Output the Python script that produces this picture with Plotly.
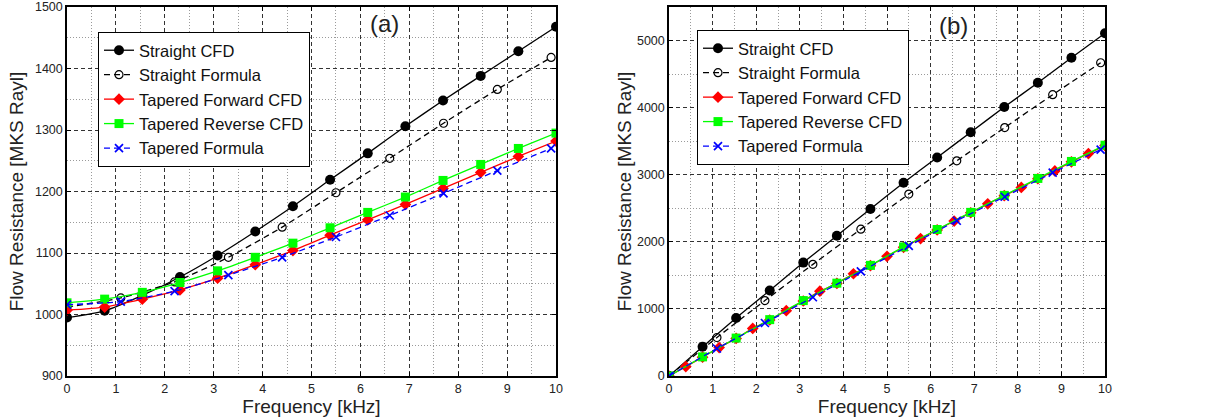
import plotly.graph_objects as go

# ---------------- data: panel (a) ----------------
a_x_cfd = [0, 0.77, 1.54, 2.31, 3.08, 3.85, 4.62, 5.38, 6.15, 6.92, 7.69, 8.46, 9.23, 10]
a_x_formula = [0, 1.1, 2.2, 3.3, 4.4, 5.5, 6.6, 7.7, 8.8, 9.9]
a_straight_cfd = [995, 1006, 1031, 1061, 1096, 1135, 1176, 1219, 1262, 1306, 1348, 1388, 1428, 1468]
a_straight_formula = [1012, 1027, 1053, 1093, 1142, 1198, 1254, 1311, 1366, 1418]
a_tapered_fwd = [1007, 1012, 1025, 1040, 1059, 1081, 1104, 1129, 1154, 1179, 1205, 1231, 1257, 1282]
a_tapered_rev = [1019, 1025, 1036, 1052, 1071, 1093, 1116, 1141, 1166, 1191, 1218, 1244, 1270, 1295]
a_tapered_formula = [1016, 1021, 1038, 1064, 1093, 1126, 1161, 1197, 1234, 1270]

# ---------------- data: panel (b) ----------------
b_x_cfd = [0, 0.77, 1.54, 2.31, 3.08, 3.85, 4.62, 5.38, 6.15, 6.92, 7.69, 8.46, 9.23, 10]
b_x_fwd = [0, 0.385, 0.77, 1.15, 1.54, 1.92, 2.31, 2.69, 3.08, 3.46, 3.85, 4.23, 4.62,
           5.0, 5.38, 5.77, 6.15, 6.54, 6.92, 7.31, 7.69, 8.08, 8.46, 8.85, 9.23, 9.62, 10]
b_x_formula = [0, 1.1, 2.2, 3.3, 4.4, 5.5, 6.6, 7.7, 8.8, 9.9]
b_straight_cfd = [0, 435, 865, 1274, 1690, 2090, 2490, 2880, 3257, 3633, 4009, 4371, 4743, 5108]
b_straight_formula = [0, 574, 1124, 1664, 2189, 2712, 3207, 3703, 4193, 4669]
b_tapered_fwd = [0, 140, 280, 424, 560, 709, 835, 974, 1118, 1264, 1380, 1524, 1645,
                 1784, 1918, 2049, 2178, 2309, 2433, 2566, 2688, 2810, 2940, 3057, 3192, 3315, 3435]
b_tapered_rev = [0, 285, 565, 840, 1124, 1384, 1649, 1924, 2184, 2439, 2692, 2945, 3198, 3440]
b_tapered_formula = [0, 410, 790, 1174, 1559, 1939, 2314, 2672, 3030, 3375]

names = ["Straight CFD", "Straight Formula", "Tapered Forward CFD",
         "Tapered Reverse CFD", "Tapered Formula"]

FONT = "Liberation Sans, Arial, Helvetica, sans-serif"
W, H = 1227, 419


def series(xs, ys, name, style, xa, ya, leg):
    color, dash, symbol, size, mline = style
    return go.Scatter(
        x=xs, y=ys, name=name, mode="lines+markers",
        xaxis=xa, yaxis=ya, legend=leg,
        line=dict(color=color, width=1.3, dash=dash, shape="spline", smoothing=0.6),
        marker=dict(symbol=symbol, size=size, color=color,
                    line=dict(color=color, width=mline)),
    )


styles = [
    ("black", "solid", "circle", 10, 0),
    ("black", "6px,4px", "circle-open", 8, 1.2),
    ("#ff0000", "solid", "diamond", 9, 0),
    ("#00ff00", "solid", "square", 9, 0),
    ("#0000ff", "6px,4px", "x-thin", 8, 1.7),
]

fig = go.Figure()
a_sets = [(a_x_cfd, a_straight_cfd), (a_x_formula, a_straight_formula),
          (a_x_cfd, a_tapered_fwd), (a_x_cfd, a_tapered_rev),
          (a_x_formula, a_tapered_formula)]
b_sets = [(b_x_cfd, b_straight_cfd), (b_x_formula, b_straight_formula),
          (b_x_fwd, b_tapered_fwd), (b_x_cfd, b_tapered_rev),
          (b_x_formula, b_tapered_formula)]
for (xs, ys), nm, st in zip(a_sets, names, styles):
    fig.add_trace(series(xs, ys, nm, st, "x", "y", "legend"))
for (xs, ys), nm, st in zip(b_sets, names, styles):
    fig.add_trace(series(xs, ys, nm, st, "x2", "y2", "legend2"))


def axis_style(dtick, minor_dtick, rng, domain, title, anchor, standoff):
    return dict(
        range=rng, domain=domain, anchor=anchor, autorange=False,
        dtick=dtick, tick0=0,
        showline=True, linecolor="black", linewidth=1.5, mirror="ticks",
        ticks="inside", ticklen=4, tickcolor="black", tickwidth=1,
        showgrid=True, gridcolor="#333333", gridwidth=1, griddash="4px,3px",
        minor=dict(dtick=minor_dtick, tick0=0, showgrid=True, gridcolor="#9a9a9a",
                   griddash="1px,2px", gridwidth=1, ticks=""),
        zeroline=False, automargin=False,
        tickfont=dict(family=FONT, size=12.5, color="#222222"),
        title=dict(text=title, font=dict(family=FONT, size=19, color="#222222"),
                   standoff=standoff),
    )


ydom = [43 / H, 1 - 7 / H]
fig.update_layout(
    width=W, height=H,
    margin=dict(l=0, r=0, t=0, b=0),
    paper_bgcolor="white", plot_bgcolor="white",
    font=dict(family=FONT, color="#222222"),
    xaxis=axis_style(1, 0.5, [0, 10], [67 / W, 556 / W], "Frequency [kHz]", "y", 0),
    yaxis=axis_style(100, 50, [900, 1500], ydom, "Flow Resistance [MKS Rayl]", "x", 6),
    xaxis2=axis_style(1, 0.5, [0, 10], [669 / W, 1105 / W], "Frequency [kHz]", "y2", 0),
    yaxis2=axis_style(1000, 500, [0, 5500], ydom, "Flow Resistance [MKS Rayl]", "x2", 0),
    legend=dict(x=98 / W, y=1 - 32 / H, xanchor="left", yanchor="top",
                bgcolor="white", bordercolor="black", borderwidth=1,
                font=dict(family=FONT, size=16.5, color="#111111"),
                itemwidth=30, tracegroupgap=0),
    legend2=dict(x=697 / W, y=1 - 30 / H, xanchor="left", yanchor="top",
                 bgcolor="white", bordercolor="black", borderwidth=1,
                 font=dict(family=FONT, size=16.5, color="#111111"),
                 itemwidth=30, tracegroupgap=0),
    annotations=[
        dict(text="(a)", x=384 / W, y=1 - 23 / H, xref="paper", yref="paper",
             xanchor="center", yanchor="middle",
             showarrow=False, font=dict(family=FONT, size=24, color="#222222")),
        dict(text="(b)", x=953 / W, y=1 - 25 / H, xref="paper", yref="paper",
             xanchor="center", yanchor="middle",
             showarrow=False, font=dict(family=FONT, size=24, color="#222222")),
    ],
)

fig.write_html("out.html")
